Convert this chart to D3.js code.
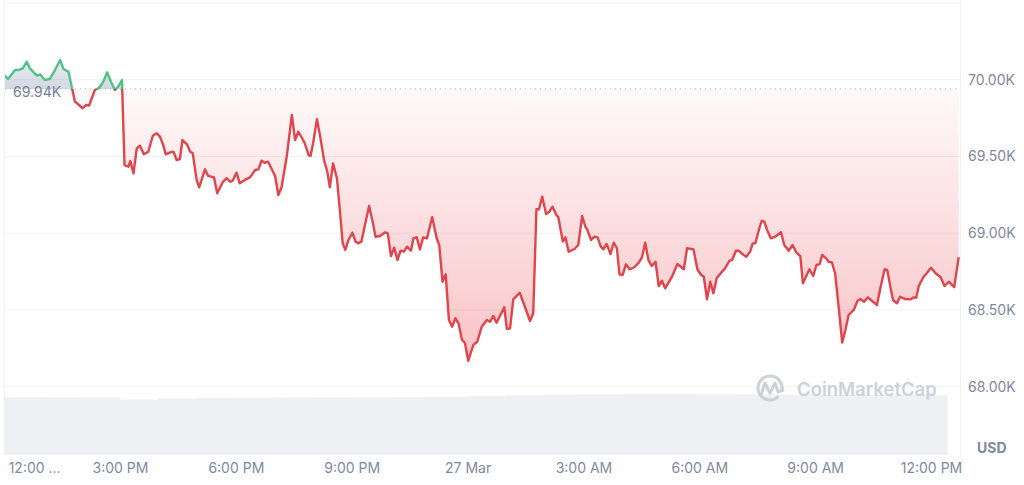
<!DOCTYPE html>
<meta charset="utf-8">
<html>
<head>
<title>BTC price 24h</title>
<script src="https://d3js.org/d3.v7.min.js"></script>
<style type="text/css">
body { margin: 0; background: #ffffff; }
text { font-family: Inter, "Noto Sans", sans-serif; }
.tick text { fill: #808a9d; font-size: 14px; }
</style>
</head>
<body>
<div id="chart"></div>

<script type="text/javascript">

// price, every few minutes after 12:00 PM on 26 Mar
var minutes = [1,6,17,22,29,35,40,45,51,56,63,71,79,87,92,100,105,110,115,122,
  127,132,138,141,146,149,154,160,166,172,177,183,187,193,196,201,206,211,217,224,
  231,237,242,247,251,258,263,268,273,277,284,289,293,299,303,312,317,326,331,340,
  346,351,355,361,366,374,382,390,395,400,405,410,421,426,431,439,447,452,457,462,
  467,473,476,480,486,491,497,502,506,511,517,522,526,530,535,541,546,550,555,560,
  567,573,577,584,592,596,601,606,611,616,621,626,632,636,641,646,651,657,665,672,
  676,681,686,691,696,701,706,711,716,721,729,735,742,750,755,760,765,771,777,781,
  786,791,801,808,817,822,827,831,836,842,847,852,858,861,868,872,877,886,892,898,
  903,906,912,917,922,927,931,936,942,947,952,956,961,966,972,979,986,991,996,1001,
  1006,1012,1017,1022,1027,1038,1046,1056,1061,1071,1077,1083,1087,1092,1097,1102,1107,1114,1120,1127,
  1131,1137,1141,1149,1153,1159,1163,1167,1174,1177,1181,1185,1191,1198,1207,1212,1219,1225,1231,1237,
  1241,1251,1257,1262,1267,1271,1277,1281,1286,1291,1297,1302,1307,1312,1320,1326,1330,1336,1342,1348,
  1356,1362,1368,1372,1377,1381,1387,1392,1400,1408,1413,1417,1421,1428,1434,1440,1447,1455,1461,1468,
  1476,1483];

var prices = [70026,70005,70063,70063,70074,70117,70074,70052,70026,70035,
  69998,70005,70063,70128,70070,70052,69954,69857,69840,69814,
  69835,69831,69900,69933,69944,69954,69987,70048,69987,69933,
  69954,69998,69444,69433,69470,69390,69553,69570,69514,69531,
  69635,69651,69629,69575,69514,69527,69531,69477,69483,69607,
  69579,69531,69521,69347,69299,69416,69373,69364,69260,69335,
  69358,69335,69342,69394,69325,69347,69364,69412,69416,69472,
  69459,69466,69373,69249,69299,69498,69770,69607,69661,69625,
  69586,69509,69503,69586,69742,69629,69477,69401,69299,69455,
  69358,69130,68934,68891,68956,69003,68945,68934,68945,69042,
  69177,69065,68977,68982,69006,68999,68851,68906,68825,68886,
  68880,68912,68886,68967,68973,68895,68973,68967,69104,68967,
  68923,68684,68732,68435,68391,68446,68413,68309,68283,68169,
  68272,68293,68391,68435,68423,68461,68417,68467,68517,68376,
  68380,68569,68612,68532,68428,68478,69156,69156,69238,69125,
  69140,69173,69119,69104,68945,68973,68879,68897,68923,69112,
  69042,69021,68956,68977,68973,68912,68895,68930,68864,68938,
  68902,68732,68728,68797,68765,68778,68808,68843,68938,68825,
  68786,68814,68656,68690,68641,68721,68799,68765,68902,68895,
  68765,68728,68717,68569,68684,68608,68706,68743,68771,68821,
  68825,68886,68886,68858,68847,68880,68934,68934,69042,69081,
  69075,69025,68967,68977,69006,68923,68886,68923,68873,68851,
  68674,68765,68721,68793,68799,68858,68836,68814,68810,68739,
  68500,68287,68369,68467,68500,68560,68571,68554,68582,68560,
  68532,68656,68765,68760,68648,68565,68543,68586,68571,68569,
  68582,68580,68656,68713,68743,68775,68739,68713,68656,68684,
  68648,68843];

// 24h volume (billions), hourly from 12:00 PM
var volHours = [0,1,2,3,4,5,6,7,8,9,10,11,12,13,14,15,16,17,18,19,20,21,22,23,24];
var volumes = [29.9,29.8,29.6,28.6,29.2,29.4,29.5,29.6,29.8,29.7,29.9,30.1,30.4,
  30.9,31.2,31.3,31.5,31.5,31.4,31.3,31.2,31.1,31.0,30.9,30.8];

var baseline = 69940;
var baselineLabel = "69.94K";

var yTicks = [68000, 68500, 69000, 69500, 70000];
var yTickLabels = ["68.00K", "68.50K", "69.00K", "69.50K", "70.00K"];
var gridValues = [68000, 68500, 69000, 69500, 70000, 70500];

var xTickHours = [0, 3, 6, 9, 12, 15, 18, 21, 24];
var xTickLabels = ["12:00 ...", "3:00 PM", "6:00 PM", "9:00 PM", "27 Mar",
  "3:00 AM", "6:00 AM", "9:00 AM", "12:00 PM"];

var width = 1024, height = 485;
var left = 5, right = 960, bottom = 455;
var start = new Date(2024, 2, 26, 12, 0);

function minToDate(m) { return new Date(start.getTime() + m * 60000); }

var data = minutes.map(function(m, i) { return {t: minToDate(m), p: prices[i]}; });

var svg = d3.select("#chart")
  .append("svg")
    .attr("width", width)
    .attr("height", height);

var x = d3.scaleTime()
  .domain([start, minToDate(1440)])
  .range([4.15, 931]);

var y = d3.scaleLinear()
  .domain([68000, 70000])
  .range([386.7, 79.7]);

var vy = d3.scaleLinear()
  .domain([0, 32])
  .range([bottom, 393]);

var baseY = y(baseline);

// gradients + clips
var defs = svg.append("defs");
var rg = defs.append("linearGradient")
  .attr("id", "redFill").attr("gradientUnits", "userSpaceOnUse")
  .attr("x1", 0).attr("x2", 0).attr("y1", baseY).attr("y2", y(68169));
rg.append("stop").attr("offset", 0).attr("stop-color", "#ea3943").attr("stop-opacity", 0.03);
rg.append("stop").attr("offset", 1).attr("stop-color", "#ea3943").attr("stop-opacity", 0.3);

var gg = defs.append("linearGradient")
  .attr("id", "greyFill").attr("gradientUnits", "userSpaceOnUse")
  .attr("x1", 0).attr("x2", 0).attr("y1", y(70128)).attr("y2", baseY);
gg.append("stop").attr("offset", 0).attr("stop-color", "#a6b0c3").attr("stop-opacity", 0.25);
gg.append("stop").attr("offset", 1).attr("stop-color", "#a6b0c3").attr("stop-opacity", 0.5);

defs.append("clipPath").attr("id", "above")
  .append("rect").attr("x", left).attr("y", 0).attr("width", right - left).attr("height", baseY);
defs.append("clipPath").attr("id", "below")
  .append("rect").attr("x", left).attr("y", baseY).attr("width", right - left).attr("height", bottom - baseY);

// grid
svg.append("g")
  .selectAll("line")
  .data(gridValues)
  .enter().append("line")
    .attr("x1", left).attr("x2", right)
    .attr("y1", function(d) { return y(d); })
    .attr("y2", function(d) { return y(d); })
    .attr("stroke", "#eff2f5");

svg.append("line").attr("x1", 4.5).attr("x2", 4.5).attr("y1", 0).attr("y2", bottom)
  .attr("stroke", "#eff2f5");
svg.append("line").attr("x1", right + 0.5).attr("x2", right + 0.5).attr("y1", 0).attr("y2", bottom)
  .attr("stroke", "#eff2f5");

// volume
svg.append("g")
  .selectAll("rect")
  .data(volumes)
  .enter().append("rect")
    .attr("x", function(d, i) { return Math.max(left, x(minToDate(volHours[i] * 60))); })
    .attr("y", function(d) { return vy(d); })
    .attr("width", function(d, i) {
      var x0 = Math.max(left, x(minToDate(volHours[i] * 60)));
      var x1 = i < volHours.length - 1 ? x(minToDate(volHours[i + 1] * 60)) : 947;
      return x1 - x0 + 0.5;
    })
    .attr("height", function(d) { return bottom - vy(d); })
    .attr("fill", "#eef0f3");

// watermark
var wm = svg.append("g").attr("fill", "none").attr("stroke", "#cdd2d8");
wm.append("path")
  .attr("d", d3.arc()({innerRadius: 12, outerRadius: 12, startAngle: Math.PI * 0.75, endAngle: Math.PI * 2.6}))
  .attr("transform", "translate(770,388)")
  .attr("stroke-width", 3.2);
wm.append("path")
  .attr("d", "M761,395 L765,383 L770,393 L775,383 L778,392 L783,390")
  .attr("stroke-width", 3)
  .attr("stroke-linejoin", "round")
  .attr("stroke-linecap", "round");
svg.append("text")
  .attr("x", 797).attr("y", 396)
  .attr("font-size", 18.5).attr("font-weight", 600)
  .attr("fill", "#cdd2d8")
  .text("CoinMarketCap");

// areas
var area = d3.area()
  .x(function(d) { return x(d.t); })
  .y0(baseY)
  .y1(function(d) { return y(d.p); });

svg.append("path").datum(data)
  .attr("clip-path", "url(#below)")
  .attr("fill", "url(#redFill)")
  .attr("d", area);
svg.append("path").datum(data)
  .attr("clip-path", "url(#above)")
  .attr("fill", "url(#greyFill)")
  .attr("d", area);

// baseline
svg.append("line")
  .attr("x1", left).attr("x2", 958)
  .attr("y1", baseY).attr("y2", baseY)
  .attr("stroke", "#a1a7b3")
  .attr("stroke-width", 1)
  .attr("stroke-dasharray", "1,4");

// line
var line = d3.line()
  .x(function(d) { return x(d.t); })
  .y(function(d) { return y(d.p); });

svg.append("path").datum(data)
  .attr("clip-path", "url(#below)")
  .attr("fill", "none").attr("stroke", "#e2444c").attr("stroke-width", 2.4)
  .attr("stroke-linejoin", "round")
  .attr("d", line);
svg.append("path").datum(data)
  .attr("clip-path", "url(#above)")
  .attr("fill", "none").attr("stroke", "#4fc286").attr("stroke-width", 2.4)
  .attr("stroke-linejoin", "round")
  .attr("d", line);

svg.append("text")
  .attr("x", 13).attr("y", baseY + 8)
  .attr("font-size", 14).attr("fill", "#75809a")
  .text(baselineLabel);

// Y axis
var yAxis = svg.append("g")
  .attr("transform", "translate(" + right + ",0)")
  .call(d3.axisRight(y)
    .tickValues(yTicks)
    .tickSize(0)
    .tickPadding(8)
    .tickFormat(function(d, i) { return yTickLabels[i]; }));
yAxis.select(".domain").remove();

svg.append("text")
  .attr("x", 977).attr("y", 453)
  .attr("font-size", 14).attr("font-weight", 700).attr("fill", "#808a9d")
  .text("USD");

// X axis
var xAxis = svg.append("g")
  .attr("transform", "translate(0," + bottom + ")")
  .call(d3.axisBottom(x)
    .tickValues(xTickHours.map(function(h) { return minToDate(h * 60); }))
    .tickSize(0)
    .tickPadding(8)
    .tickFormat(function(d, i) { return xTickLabels[i]; }));
xAxis.select(".domain").remove();
xAxis.select(".tick text")
  .attr("text-anchor", "start")
  .attr("x", 4);

</script>
</body>
</html>
